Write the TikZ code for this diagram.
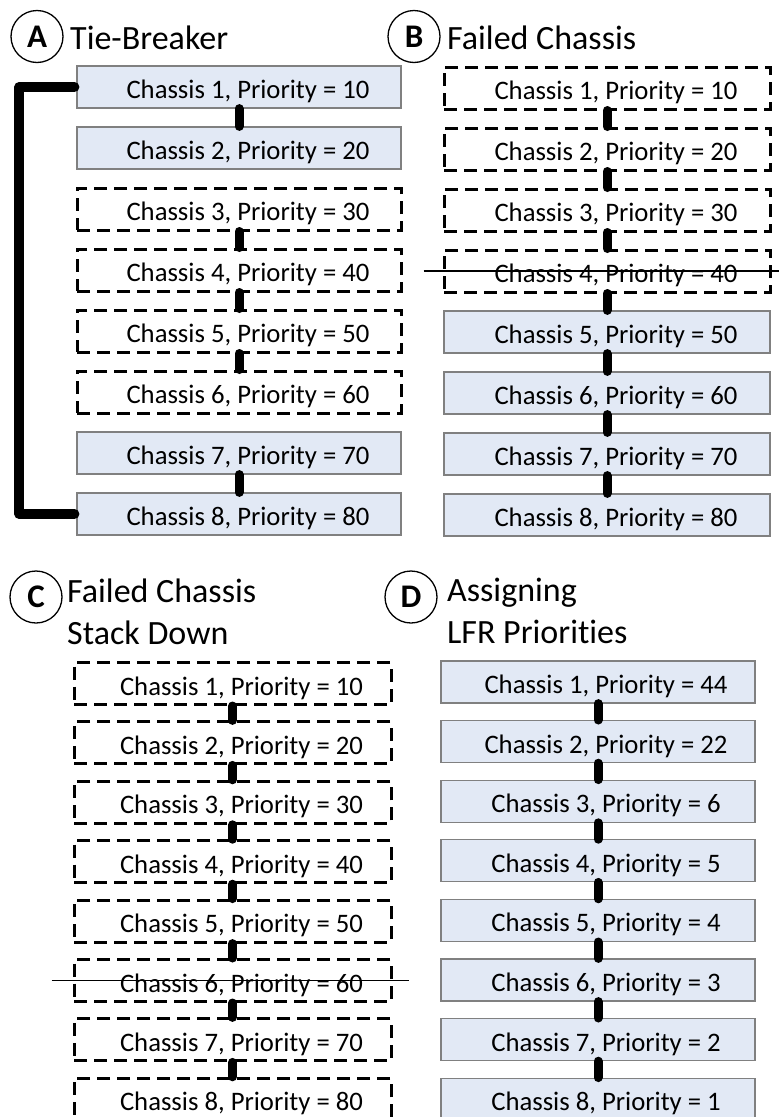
\documentclass[tikz,border=0pt]{standalone}
\usepackage{fontspec}
\setmainfont{Carlito}[Ligatures=NoCommon]
\definecolor{chassisfill}{RGB}{226,233,245}
\definecolor{chassisline}{RGB}{128,128,128}

\begin{document}
\begin{tikzpicture}[x=1pt,y=1pt,yscale=-1,
  every node/.style={inner sep=0pt},
  chassis/.style={minimum height=42pt,text height=23pt,text depth=0pt,font=\fontsize{26.7}{30}\selectfont},
  livebox/.style={chassis,draw=chassisline,fill=chassisfill,line width=1.2pt},
  downbox/.style={chassis,draw=black,line width=3pt,dash pattern=on 13pt off 7pt},
  link/.style={line width=9pt,line cap=round},
  bracket/.style={line width=10pt,line cap=round,line join=round},
  strike/.style={line width=1.5pt},
  badge/.style={circle,draw,line width=1.3pt,minimum size=52pt,font=\fontsize{33}{36}\selectfont\bfseries},
  heading/.style={anchor=base west,align=left,font=\fontsize{34}{42}\selectfont}]
\useasboundingbox (0,0) rectangle (779,1117);
\clip (0,0) rectangle (779,1117);

\node[badge] (Abadge) at (37,36.5) {A};
\node[heading] (Ahead) at (70,49) {Tie-Breaker};
\node[badge] (Bbadge) at (414,36.5) {B};
\node[heading] (Bhead) at (447,49) {Failed Chassis};
\node[badge] (Cbadge) at (36,597) {C};
\node[heading] (Chead) at (67,644) {Failed Chassis\\Stack Down};
\node[badge] (Dbadge) at (411,597) {D};
\node[heading] (Dhead) at (447,643) {Assigning\\LFR Priorities};

\foreach \i/\p/\s in {1/10/livebox,2/20/livebox,3/30/downbox,4/40/downbox,5/50/downbox,6/60/downbox,7/70/livebox,8/80/livebox}
  \node[\s,minimum width=324pt] (A\i) at (239,{87+61*(\i-1)}) {\hspace*{18pt}Chassis \i, Priority = \p};
\foreach \i/\p/\s in {1/10/downbox,2/20/downbox,3/30/downbox,4/40/downbox,5/50/livebox,6/60/livebox,7/70/livebox,8/80/livebox}
  \node[\s,minimum width=326pt] (B\i) at (607,{88+61*(\i-1)}) {\hspace*{18pt}Chassis \i, Priority = \p};
\foreach \i/\p in {1/10,2/20,3/30,4/40,5/50,6/60,7/70,8/80}
  \node[downbox,minimum width=317pt] (C\i) at (232.5,{683.5+59.4*(\i-1)}) {\hspace*{18pt}Chassis \i, Priority = \p};
\foreach \i/\p in {1/44,2/22,3/6,4/5,5/4,6/3,7/2,8/1}
  \node[livebox,minimum width=314pt] (D\i) at (598,{682+59.6*(\i-1)}) {\hspace*{16pt}Chassis \i, Priority = \p};

\foreach \a/\b in {1/2,3/4,4/5,5/6,7/8}
  \draw[link] (A\a.south) -- (A\b.north);
\foreach \a/\b in {1/2,2/3,3/4,4/5,5/6,6/7,7/8} {
  \draw[link] (B\a.south) -- (B\b.north);
  \draw[link] (C\a.south) -- (C\b.north);
  \draw[link] (D\a.south) -- (D\b.north);
}

\draw[bracket] ([xshift=-2pt]A1.west) -- ++(-55,0) |- ([xshift=-2pt]A8.west);

\draw[strike] ([xshift=-19pt]B4.west) -- ([xshift=14pt]B4.east);
\draw[strike] ([xshift=-21pt]C6.west) -- ([xshift=16pt]C6.east);
\end{tikzpicture}
\end{document}
